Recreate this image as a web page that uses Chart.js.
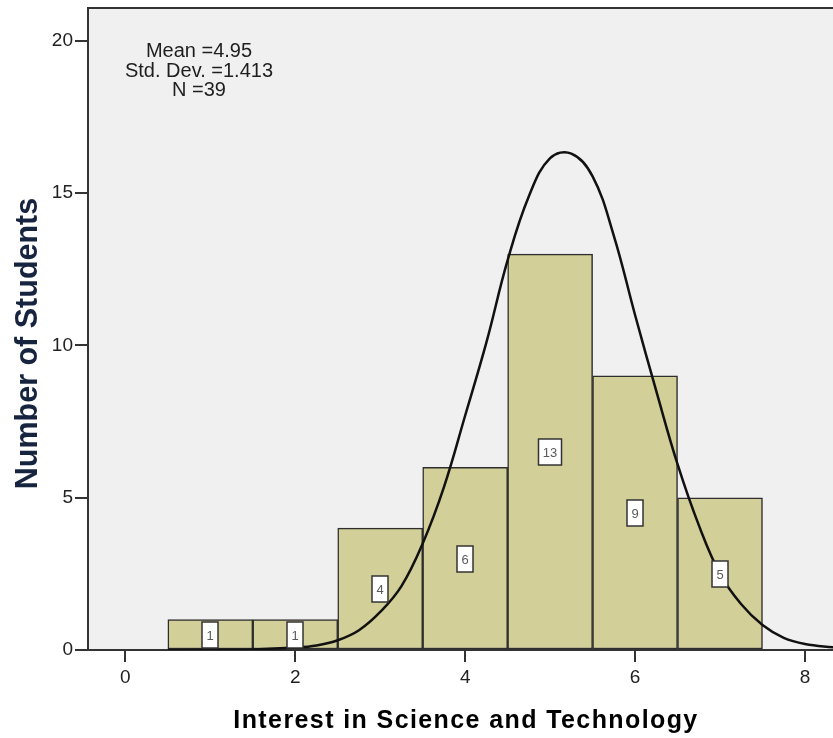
<!DOCTYPE html>
<html>
<head>
<meta charset="utf-8">
<script src="https://cdn.jsdelivr.net/npm/chart.js@4/dist/chart.umd.min.js"></script>
<style>
  html, body { margin: 0; padding: 0; background: #ffffff; overflow: hidden; }
  #wrap { width: 833px; height: 738px; }
</style>
</head>
<body>
<div id="wrap"><canvas id="hist" width="833" height="738"></canvas></div>
<script>
// Histogram bins (bin centres) and student counts per bin
const binCenters = [1, 2, 3, 4, 5, 6, 7];
const studentCounts = [1, 1, 4, 6, 13, 9, 5];

// Normal curve overlay, sampled along the x axis
const curveX = [0.5, 1, 1.5, 2, 2.25, 2.5, 2.75, 3, 3.25, 3.5, 3.75, 4, 4.25, 4.5, 4.75, 5, 5.25, 5.5, 5.75, 6, 6.25, 6.5, 6.75, 7, 7.25, 7.5, 7.75, 8, 8.35];
const curveY = [0, 0.005, 0.02, 0.08, 0.15, 0.32, 0.65, 1.25, 2.1, 3.5, 5.35, 7.7, 10.1, 12.8, 14.9, 16.15, 16.3, 15.55, 13.6, 11.0, 8.5, 6.1, 4.1, 2.5, 1.5, 0.82, 0.4, 0.2, 0.08];

// Axis ticks
const xTicks = [0, 2, 4, 6, 8];
const yTicks = [0, 5, 10, 15, 20];

// Axis titles and summary statistics
const xTitle = 'Interest in Science and Technology';
const yTitle = 'Number of Students';
const statLines = ['Mean =4.95', 'Std. Dev. =1.413', 'N =39'];

const FONT = "'Liberation Sans', Arial, sans-serif";

const plotDecor = {
  id: 'plotDecor',
  beforeDraw(chart) {
    const { ctx, chartArea: a } = chart;
    ctx.save();
    ctx.fillStyle = '#f0f0f0';
    ctx.fillRect(a.left, a.top, a.right - a.left, a.bottom - a.top);
    ctx.restore();
  },
  afterDraw(chart) {
    const { ctx, chartArea: a } = chart;
    ctx.save();
    // frame line along the top of the plot
    ctx.strokeStyle = '#333333';
    ctx.lineWidth = 2;
    ctx.beginPath();
    ctx.moveTo(a.left - 1, a.top);
    ctx.lineTo(a.right, a.top);
    ctx.stroke();

    // statistics text
    ctx.fillStyle = '#1e1e1e';
    ctx.font = '20px ' + FONT;
    ctx.textAlign = 'center';
    ctx.textBaseline = 'middle';
    const ys = [51, 71, 90];
    statLines.forEach((t, i) => ctx.fillText(t, 199, ys[i]));

    // x axis title
    ctx.fillStyle = '#000000';
    ctx.font = 'bold 25px ' + FONT;
    ctx.textBaseline = 'alphabetic';
    if ('letterSpacing' in ctx) ctx.letterSpacing = '1.4px';
    ctx.fillText(xTitle, 466, 728);
    if ('letterSpacing' in ctx) ctx.letterSpacing = '0px';

    // y axis title
    ctx.fillStyle = '#17243f';
    ctx.font = 'bold 30.5px ' + FONT;
    ctx.translate(36.5, 343.5);
    ctx.rotate(-Math.PI / 2);
    ctx.fillText(yTitle, 0, 0);
    ctx.restore();
  }
};

const barValueLabels = {
  id: 'barValueLabels',
  afterDatasetsDraw(chart) {
    const { ctx } = chart;
    const xs = chart.scales.x, ys = chart.scales.y;
    ctx.save();
    ctx.font = '13px ' + FONT;
    ctx.textAlign = 'center';
    ctx.textBaseline = 'middle';
    binCenters.forEach((c, i) => {
      const v = studentCounts[i];
      const px = Math.round(xs.getPixelForValue(c));
      const py = Math.round(ys.getPixelForValue(v / 2));
      const label = String(v);
      const w = Math.round(ctx.measureText(label).width) + 9;
      const h = 26;
      ctx.fillStyle = '#ffffff';
      ctx.fillRect(px - w / 2, py - h / 2, w, h);
      ctx.strokeStyle = '#333333';
      ctx.lineWidth = 1.5;
      ctx.strokeRect(px - w / 2, py - h / 2, w, h);
      ctx.fillStyle = '#5a5a5a';
      ctx.fillText(label, px, py + 1);
    });
    ctx.restore();
  }
};

function noScalePadding(scale) {
  scale.paddingTop = 0;
  scale.paddingBottom = 0;
  scale.paddingLeft = 0;
  scale.paddingRight = 0;
}

new Chart(document.getElementById('hist'), {
  type: 'bar',
  data: {
    datasets: [
      {
        type: 'line',
        order: 0,
        data: curveX.map((x, i) => ({ x: x, y: curveY[i] })),
        borderColor: '#111111',
        borderWidth: 2.5,
        pointRadius: 0,
        fill: false,
        tension: 0.4
      },
      {
        type: 'bar',
        order: 1,
        data: binCenters.map((c, i) => ({ x: c, y: studentCounts[i] })),
        backgroundColor: '#d3cf98',
        borderColor: '#2e2e2e',
        borderWidth: 1.5,
        borderSkipped: false,
        barPercentage: 1,
        categoryPercentage: 1,
        grouped: false
      }
    ]
  },
  options: {
    responsive: false,
    animation: false,
    events: [],
    layout: { autoPadding: false, padding: { top: 8, right: 0, bottom: 0, left: 0 } },
    plugins: { legend: { display: false }, tooltip: { enabled: false } },
    scales: {
      x: {
        type: 'linear',
        min: -0.44,
        max: 8.33,
        offset: false,
        afterBuildTicks(scale) { scale.ticks = xTicks.map(v => ({ value: v })); },
        afterFit(scale) { scale.height = 88; noScalePadding(scale); },
        grid: { offset: false, drawOnChartArea: false, drawTicks: true, tickLength: 12, tickColor: '#333333', tickWidth: 2, lineWidth: 2 },
        border: { display: true, color: '#333333', width: 2 },
        ticks: { color: '#222222', font: { family: FONT, size: 19 }, padding: 4, maxRotation: 0, autoSkip: false },
        title: { display: false }
      },
      y: {
        type: 'linear',
        min: 0,
        max: 21.08,
        afterBuildTicks(scale) { scale.ticks = yTicks.map(v => ({ value: v })); },
        afterFit(scale) { scale.width = 88; noScalePadding(scale); },
        grid: { drawOnChartArea: false, drawTicks: true, tickLength: 13, tickColor: '#333333', tickWidth: 2, lineWidth: 2 },
        border: { display: true, color: '#333333', width: 2 },
        ticks: { color: '#222222', font: { family: FONT, size: 19 }, padding: 2 },
        title: { display: false }
      }
    }
  },
  plugins: [plotDecor, barValueLabels]
});
</script>
</body>
</html>
